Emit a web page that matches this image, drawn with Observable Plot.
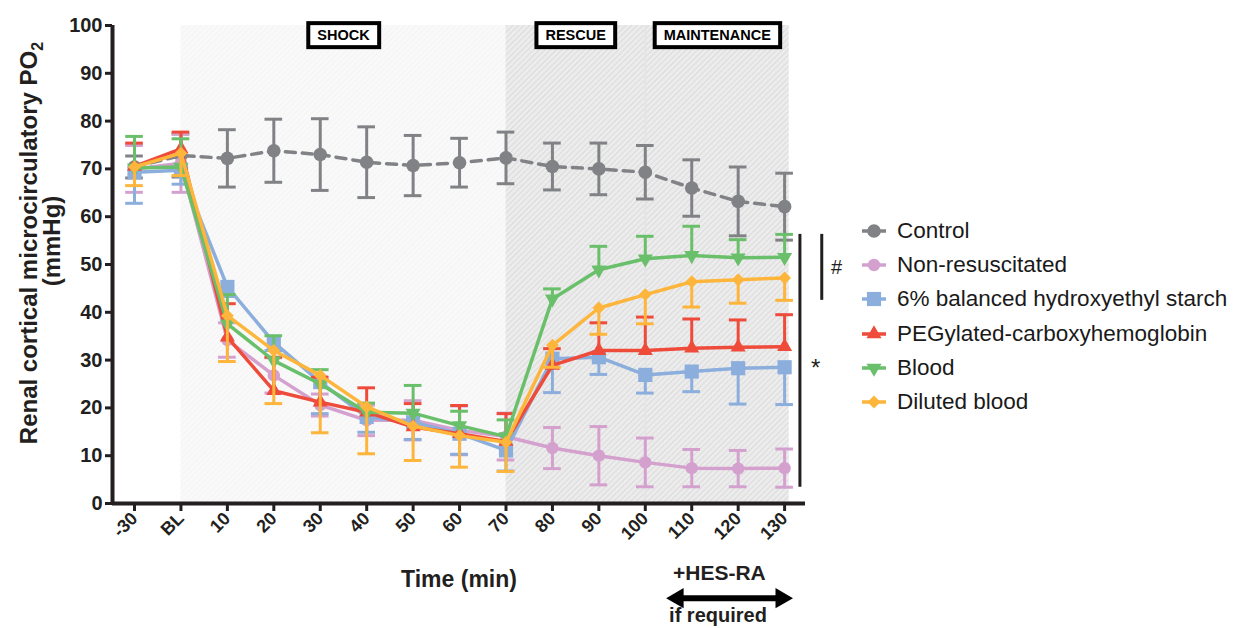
<!DOCTYPE html>
<html><head><meta charset="utf-8">
<script src="https://cdn.jsdelivr.net/npm/d3@7"></script>
<script src="https://cdn.jsdelivr.net/npm/@observablehq/plot@0.6"></script>
<style>
body{margin:0;background:#fff;font-family:"Liberation Sans",Arial,sans-serif;}
#wrap{position:relative;width:1239px;height:628px;overflow:hidden;}
#legend{position:absolute;left:860px;top:214px;}
.row{display:flex;align-items:center;height:34.2px;font-size:22.5px;color:#1a1a1a;white-space:nowrap;}
.row svg{margin-right:7px;}
</style></head><body><div id="wrap"><div id="legend"></div></div>
<script>
// ---- data ----
const timeLabels = ["-30","BL","10","20","30","40","50","60","70","80","90","100","110","120","130"];
const seriesNames = ["Control","Non-resuscitated","6% balanced hydroxyethyl starch","PEGylated-carboxyhemoglobin","Blood","Diluted blood"];

const controlMean = [70.4, 72.8, 72.2, 73.8, 73.0, 71.4, 70.7, 71.3, 72.3, 70.5, 70.0, 69.3, 66.0, 63.2, 62.1];
const controlErr  = [2.3, 4.5, 6.0, 6.6, 7.5, 7.4, 6.3, 5.1, 5.4, 4.9, 5.4, 5.6, 5.9, 7.2, 7.0];

const nonResMean  = [70.0, 71.2, 34.2, 26.8, 20.6, 17.4, 17.4, 15.3, 14.0, 11.6, 10.0, 8.6, 7.4, 7.3, 7.4];
const nonResErr   = [4.9, 6.1, 3.6, 3.7, 2.3, 3.2, 4.1, 5.1, 4.9, 4.3, 6.1, 5.1, 3.9, 3.8, 4.0];

const hesMean     = [69.3, 69.7, 45.3, 33.7, 25.4, 18.1, 17.0, 14.6, 11.1, 30.3, 30.6, 26.9, 27.6, 28.3, 28.5];
const hesErr      = [6.5, 2.9, 2.0, 1.7, 6.6, 3.2, 3.6, 4.3, 4.3, 7.1, 3.6, 3.8, 4.2, 7.5, 7.8];

const pegMean     = [70.5, 74.2, 34.8, 23.6, 21.2, 19.1, 16.0, 14.6, 13.0, 28.9, 32.0, 32.0, 32.5, 32.7, 32.8];
const pegErr      = [4.9, 3.5, 7.0, 7.0, 5.2, 5.1, 4.9, 5.9, 5.8, 3.5, 5.8, 7.0, 6.1, 5.7, 6.7];

const bloodMean   = [70.2, 70.4, 37.6, 29.9, 25.0, 19.1, 18.9, 16.3, 14.0, 42.8, 48.9, 51.2, 51.9, 51.4, 51.5];
const bloodErr    = [6.6, 5.9, 6.1, 5.2, 3.0, 1.9, 5.8, 3.0, 3.5, 2.1, 4.9, 4.7, 6.1, 3.8, 4.8];

const dilutedMean = [70.4, 73.3, 39.3, 32.0, 26.8, 20.2, 16.2, 14.2, 12.8, 33.1, 40.9, 43.7, 46.4, 46.8, 47.2];
const dilutedErr  = [3.9, 4.7, 9.6, 11.1, 12.0, 9.8, 7.2, 6.6, 6.1, 4.6, 5.5, 6.1, 5.3, 4.9, 4.7];

const phaseNames  = ["SHOCK","RESCUE","MAINTENANCE"];
const phaseStart  = [1, 8, 11];     // index into timeLabels
const phaseEnd    = [8, 11, 14.1];

const yTicks = [0,10,20,30,40,50,60,70,80,90,100];
const hesLabel = ["+HES-RA", "if required"];
const hesSpan = [11.5, 14.13];

// ---- styles ----
const styles = [
  {color:"#808285", symbol:"circle",   r:6.8, rotate:0,   dir:"both", dash:"10,7"},
  {color:"#d4a1cf", symbol:"circle",   r:6.2, rotate:0,   dir:"both", dash:null},
  {color:"#8caedc", symbol:"square",   r:8.0, rotate:0,   dir:"down", dash:null},
  {color:"#ee4b3b", symbol:"triangle", r:5.6, rotate:0,   dir:"up",   dash:null},
  {color:"#6abf6b", symbol:"triangle", r:5.6, rotate:180, dir:"up",   dash:null},
  {color:"#fdb53b", symbol:"diamond2", r:5.8, rotate:0,   dir:"down", dash:null}
];
const means = [controlMean, nonResMean, hesMean, pegMean, bloodMean, dilutedMean];
const errs  = [controlErr, nonResErr, hesErr, pegErr, bloodErr, dilutedErr];

const series = seriesNames.map((name, k) => {
  const st = styles[k];
  const rows = means[k].map((v, i) => ({
    i, v,
    lo: st.dir === "up" ? v : v - errs[k][i],
    hi: st.dir === "down" ? v : v + errs[k][i]
  }));
  const caps = [];
  rows.forEach(d => {
    if (st.dir !== "up") caps.push({i: d.i, y: d.lo});
    if (st.dir !== "down") caps.push({i: d.i, y: d.hi});
  });
  return {name, st, rows, caps};
});

const phases = phaseNames.map((name, k) => ({name, x1: phaseStart[k], x2: phaseEnd[k], mid: (phaseStart[k] + phaseEnd[k]) / 2}));

// significance brackets derived from values at the last time point
const last = timeLabels.length - 1;
const bloodTop = bloodMean[last] + bloodErr[last];
const hashBracket = {x: 14.8, y1: bloodTop, y2: dilutedMean[last] - dilutedErr[last]};
const starBracket = {x: 14.33, y1: bloodTop, y2: nonResMean[last] - nonResErr[last]};

const xDomain = [-0.474, 14.45];
const capHalf = 0.19;
const ink = "#231f20";

const marks = [];
// background phases
marks.push(Plot.rect([phases[0]], {x1:"x1", x2:"x2", y1:0, y2:100, fill:"url(#hatchLight)"}));
marks.push(Plot.rect(phases.slice(1), {x1:"x1", x2:"x2", y1:0, y2:100, fill:"url(#hatchDark)"}));
marks.push(Plot.ruleX([phases[2]], {x:"x1", y1:0, y2:100, stroke:"#e2e4e6", strokeWidth:2}));

series.forEach(s => {
  const c = s.st.color;
  marks.push(Plot.ruleX(s.rows, {x:"i", y1:"lo", y2:"hi", stroke:c, strokeWidth:3}));
  marks.push(Plot.ruleY(s.caps, {y:"y", x1: d => d.i - capHalf, x2: d => d.i + capHalf, stroke:c, strokeWidth:3}));
  marks.push(Plot.line(s.rows, {x:"i", y:"v", stroke:c, strokeWidth:3.5, strokeDasharray: s.st.dash || undefined}));
  marks.push(Plot.dot(s.rows, {x:"i", y:"v", symbol:s.st.symbol, r:s.st.r, fill:c, stroke:"none", rotate:s.st.rotate}));
});

// axes
marks.push(Plot.axisY({ticks: yTicks, tickSize:7, tickPadding:3, fontSize:20, fontWeight:"bold", label:null, stroke:ink, strokeWidth:3, color:ink}));
marks.push(Plot.axisX({ticks: d3.range(timeLabels.length), tickFormat: i => timeLabels[i], tickRotate:-45, tickSize:8, tickPadding:4, fontSize:18, fontWeight:"bold", label:null, stroke:ink, strokeWidth:3, color:ink}));
marks.push(Plot.ruleY([0], {stroke:ink, strokeWidth:4}));
marks.push(Plot.ruleX([xDomain[0]], {y1:0, y2:100, stroke:ink, strokeWidth:4}));

// phase labels
marks.push(Plot.text(phases, {x:"mid", text:"name", frameAnchor:"top", lineAnchor:"middle", dy:10, fontSize:14.5, fontWeight:"bold", fill:"#000", className:"phase-label"}));

// brackets
marks.push(Plot.ruleX([hashBracket], {x:"x", y1:"y1", y2:"y2", stroke:ink, strokeWidth:3}));
marks.push(Plot.ruleX([starBracket], {x:"x", y1:"y1", y2:"y2", stroke:ink, strokeWidth:3}));
marks.push(Plot.text([hashBracket], {x: d => d.x + 0.32, y: d => (d.y1 + d.y2) / 2, text: () => "#", fontSize:20, fill:ink}));
marks.push(Plot.text([starBracket], {x: d => d.x + 0.34, y: d => (d.y1 + d.y2) / 2 - 1.5, text: () => "*", fontSize:24, fill:ink}));

// x axis title
marks.push(Plot.text(["Time (min)"], {frameAnchor:"bottom", lineAnchor:"middle", dy:76, fontSize:23, fontWeight:"bold", fill:ink}));

// HES-RA annotation
const hesMid = (hesSpan[0] + hesSpan[1]) / 2;
marks.push(Plot.text([hesLabel[0]], {x: hesMid - 0.22, frameAnchor:"bottom", lineAnchor:"middle", dy:70, fontSize:21, fontWeight:"bold", fill:ink}));
marks.push(Plot.text([hesLabel[1]], {x: hesMid - 0.25, frameAnchor:"bottom", lineAnchor:"middle", dy:112, fontSize:20, fontWeight:"bold", fill:ink}));
marks.push(Plot.link([{a: hesSpan[0] + 0.25, b: hesSpan[1] - 0.25}], {x1:"a", x2:"b", y1:-19.8, y2:-19.8, stroke:"#000", strokeWidth:6}));
marks.push(Plot.dot([{x: hesSpan[0] + 0.2, rot: -90}, {x: hesSpan[1] - 0.2, rot: 90}], {x:"x", y:-19.8, symbol:"triangle", r:7.5, fill:"#000", stroke:"none", rotate:"rot"}));

const plot = Plot.plot({
  width: 1239,
  height: 628,
  marginLeft: 112,
  marginRight: 1239 - 805,
  marginTop: 25,
  marginBottom: 125,
  style: {fontFamily: '"Liberation Sans", Arial, sans-serif', background: "transparent", overflow: "visible"},
  x: {type: "linear", domain: xDomain, axis: null},
  y: {domain: [0, 100], axis: null},
  marks
});

const wrap = document.getElementById("wrap");
wrap.insertBefore(plot, wrap.firstChild);

const svg = d3.select(plot);
const defs = svg.insert("defs", ":first-child");
function hatch(id, bg, line, w) {
  const p = defs.append("pattern").attr("id", id).attr("patternUnits", "userSpaceOnUse")
    .attr("width", 4).attr("height", 4).attr("patternTransform", "rotate(45)");
  p.append("rect").attr("width", 4).attr("height", 4).attr("fill", bg);
  p.append("line").attr("x1", 0).attr("y1", 0).attr("x2", 0).attr("y2", 4).attr("stroke", line).attr("stroke-width", w);
}
hatch("hatchLight", "#f9f9f9", "#f1f1f1", 1.2);
hatch("hatchDark", "#ececec", "#d3d3d3", 1.3);

// boxes around phase labels
svg.selectAll(".phase-label text").each(function() {
  const b = this.getBBox();
  const t = this.getAttribute("transform");
  d3.select(this.parentNode).insert("rect", () => this)
    .attr("transform", t)
    .attr("x", b.x - 9).attr("y", b.y - 4).attr("width", b.width + 18).attr("height", b.height + 8)
    .attr("fill", "#fff").attr("stroke", "#000").attr("stroke-width", 4);
});

// y axis title with subscript
const yt = svg.append("g").attr("font-weight", "bold").attr("fill", ink).attr("font-size", 24).attr("text-anchor", "middle");
const t1 = yt.append("text").attr("transform", "translate(37,243) rotate(-90)");
t1.append("tspan").text("Renal cortical microcirculatory PO");
t1.append("tspan").attr("font-size", 16).attr("dy", 6).text("2");
yt.append("text").attr("transform", "translate(60,241) rotate(-90)").text("(mmHg)");

// legend
const legend = d3.select("#legend");
series.forEach(s => {
  const row = legend.append("div").attr("class", "row");
  const sv = row.append("svg").attr("width", 30).attr("height", 20);
  sv.append("line").attr("x1", 2).attr("x2", 26).attr("y1", 10).attr("y2", 10).attr("stroke", s.st.color).attr("stroke-width", 3.5);
  const typeMap = {circle: d3.symbolCircle, square: d3.symbolSquare, triangle: d3.symbolTriangle, diamond2: d3.symbolDiamond2 || d3.symbolDiamond};
  sv.append("path").attr("d", d3.symbol(typeMap[s.st.symbol], Math.PI * s.st.r * s.st.r)())
    .attr("transform", `translate(14,10) rotate(${s.st.rotate})`).attr("fill", s.st.color);
  row.append("span").text(s.name);
});
</script>
</body></html>
